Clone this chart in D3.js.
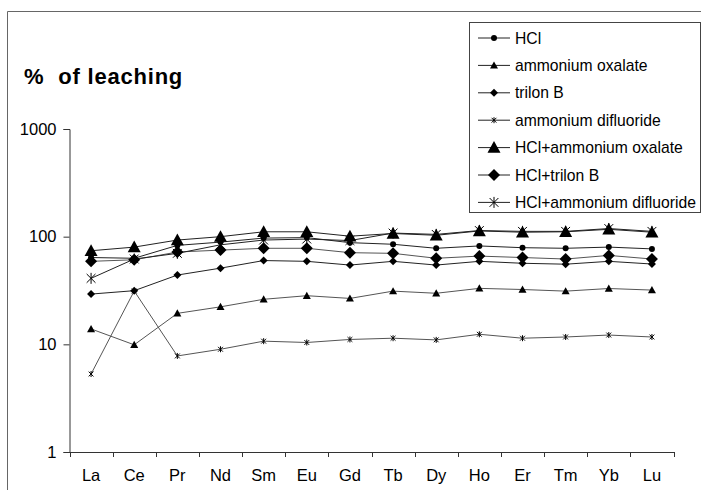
<!DOCTYPE html>
<html>
<head>
<meta charset="utf-8">
<script src="https://cdn.jsdelivr.net/npm/d3@7"></script>
<style>
  html, body { margin: 0; padding: 0; background: #fff; }
  svg { display: block; font-family: Arial, "Liberation Sans", sans-serif; }
</style>
</head>
<body>
<svg id="chart" width="701" height="490"></svg>
<script>
// Rare earth elements on the x axis
const elements = ["La","Ce","Pr","Nd","Sm","Eu","Gd","Tb","Dy","Ho","Er","Tm","Yb","Lu"];

// Leaching yield, % (log scale)
const hcl              = [64, 63, 83, 89, 97, 98, 88, 85, 78, 82, 79, 78, 80, 77];
const ammOxalate       = [13.9, 9.9, 19.4, 22.3, 26.2, 28.3, 26.7, 31.2, 29.8, 33.1, 32.3, 31.2, 33, 31.9];
const trilonB          = [29.3, 31.5, 44, 51, 60, 59, 54.5, 59, 54.5, 59, 56.6, 55.5, 59, 55.7];
const ammDifluoride    = [5.3, 31.3, 7.8, 9.0, 10.7, 10.4, 11.1, 11.4, 11.0, 12.4, 11.4, 11.7, 12.2, 11.7];
const hclAmmOxalate    = [74, 80, 93, 100, 111, 111, 101, 107, 103, 113, 110, 111, 117, 110];
const hclTrilonB       = [59, 61, 72, 75, 78, 78, 71, 70, 63, 66, 64, 62, 67, 62];
const hclAmmDifluoride = [41, 62, 70, 84, 93, 95, 92, 108, 105, 114, 112, 112, 119, 112];

const yTicks = [1, 10, 100, 1000];

const series = [
  { name: "HCl",                     values: hcl,              symbol: "circle",   size: 6 },
  { name: "ammonium oxalate",        values: ammOxalate,       symbol: "triangle", size: 8 },
  { name: "trilon B",                values: trilonB,          symbol: "diamond",  size: 8 },
  { name: "ammonium difluoride",     values: ammDifluoride,    symbol: "star",     size: 6 },
  { name: "HCl+ammonium oxalate",    values: hclAmmOxalate,    symbol: "triangle", size: 13 },
  { name: "HCl+trilon B",            values: hclTrilonB,       symbol: "diamond",  size: 12 },
  { name: "HCl+ammonium difluoride", values: hclAmmDifluoride, symbol: "star",     size: 11 }
];

const svg = d3.select("#chart");
const FONT = "Arial, 'Liberation Sans', sans-serif";

// outer chart frame (partially visible)
svg.append("path")
  .attr("d", "M7.5,490 V11.5 H701")
  .attr("fill", "none").attr("stroke", "#666").attr("stroke-width", 1);

const plot = { left: 69.5, right: 673.5, top: 129, bottom: 452 };

const x = d3.scaleBand().domain(elements).range([plot.left, plot.right]);
const y = d3.scaleLog().domain([1, 1000]).range([plot.bottom, plot.top]);

// y axis
const yAxis = svg.append("g")
  .attr("transform", `translate(${plot.left},0)`)
  .call(d3.axisLeft(y).tickValues(yTicks).tickFormat(d3.format("d")).tickSize(6).tickPadding(7));
yAxis.select(".domain").attr("stroke", "#333");
yAxis.selectAll(".tick line").attr("stroke", "#333");
yAxis.selectAll("text").attr("font-size", 16.5).attr("fill", "#000").attr("font-family", FONT);

// x axis: ticks on category boundaries
const xAxis = svg.append("g")
  .attr("transform", `translate(0,${plot.bottom})`)
  .call(d3.axisBottom(x).tickSize(0).tickPadding(17));
xAxis.select(".domain").attr("stroke", "#333");
xAxis.selectAll("text").attr("font-size", 16.5).attr("fill", "#000").attr("font-family", FONT);
const bounds = elements.map(e => x(e)).concat([x.range()[1]]);
xAxis.selectAll(".bound").data(bounds).enter().append("line")
  .attr("x1", d => Math.round(d) + 0.5).attr("x2", d => Math.round(d) + 0.5)
  .attr("y1", 0).attr("y2", 5).attr("stroke", "#333");

// title
svg.append("text")
  .attr("x", 24).attr("y", 84)
  .attr("font-size", 22).attr("font-weight", "bold")
  .attr("letter-spacing", 0.8)
  .style("white-space", "pre")
  .text("%  of leaching");

// marker drawing
function drawMarker(g, symbol, s) {
  const h = s / 2;
  if (symbol === "circle") {
    g.append("circle").attr("r", h).attr("fill", "#000");
  } else if (symbol === "triangle") {
    g.append("path").attr("d", `M0,${-h} L${h},${h * 0.8} L${-h},${h * 0.8} Z`).attr("fill", "#000");
  } else if (symbol === "diamond") {
    g.append("path").attr("d", `M0,${-h} L${h},0 L0,${h} L${-h},0 Z`).attr("fill", "#000");
  } else if (symbol === "star") {
    const d = h * 0.8;
    g.append("path")
      .attr("d", `M0,${-h} V${h} M${-d},${-d} L${d},${d} M${-d},${d} L${d},${-d}`)
      .attr("stroke", "#000").attr("stroke-width", 1).attr("fill", "none");
  }
}

const cx = e => x(e) + x.bandwidth() / 2;
const line = d3.line().x((d, i) => cx(elements[i])).y(d => y(d));

// lines first, markers on top
series.forEach((s, k) => {
  svg.append("path")
    .datum(s.values)
    .attr("d", line)
    .attr("fill", "none")
    .attr("stroke", k % 2 ? "#555" : "#222")
    .attr("stroke-width", 1);
});
series.forEach(s => {
  s.values.forEach((v, i) => {
    const g = svg.append("g").attr("transform", `translate(${cx(elements[i])},${y(v)})`);
    drawMarker(g, s.symbol, s.size);
  });
});

// legend
const legend = svg.append("g");
legend.append("rect")
  .attr("x", 469.5).attr("y", 22.5).attr("width", 231).attr("height", 190)
  .attr("fill", "#fff").attr("stroke", "#444");
series.forEach((s, i) => {
  const ly = 38 + i * 27.4;
  legend.append("line")
    .attr("x1", 478).attr("x2", 510).attr("y1", ly).attr("y2", ly)
    .attr("stroke", "#222");
  drawMarker(legend.append("g").attr("transform", `translate(494,${ly})`), s.symbol, s.size);
  legend.append("text")
    .attr("x", 515).attr("y", ly + 5.5)
    .attr("font-size", 15.7).attr("fill", "#000")
    .text(s.name);
});
</script>
</body>
</html>
